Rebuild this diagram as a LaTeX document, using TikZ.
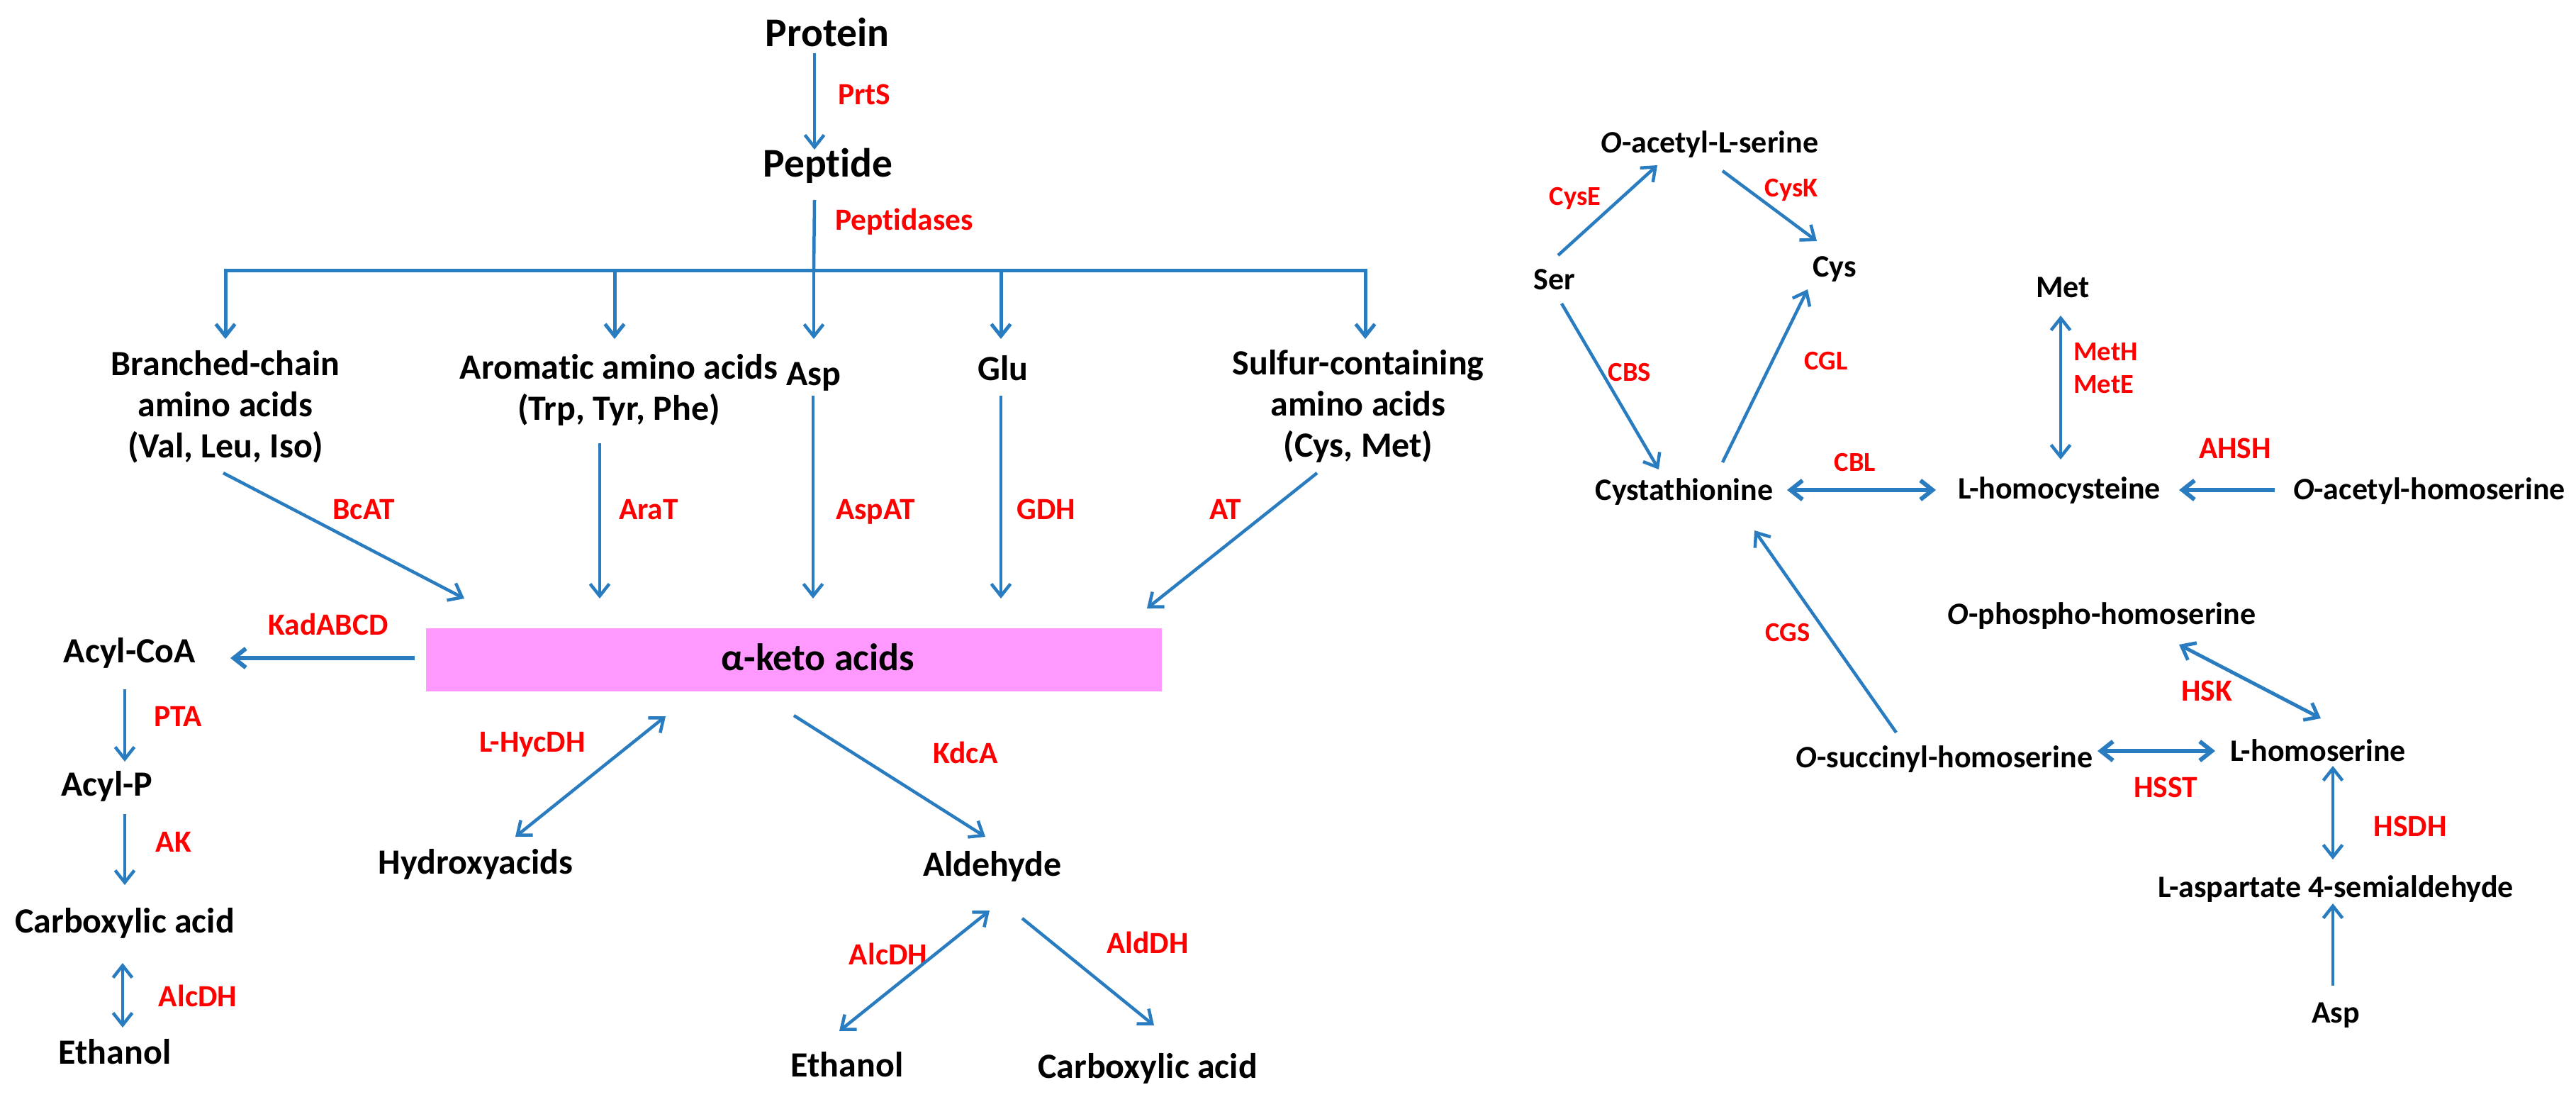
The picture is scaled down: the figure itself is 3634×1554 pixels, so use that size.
\documentclass[tikz,border=0pt]{standalone}
\usepackage{fontspec}
\setmainfont{Carlito}[Ligatures={NoCommon,NoRare,NoDiscretionary}]
\usetikzlibrary{arrows.meta}
\definecolor{arrblue}{RGB}{41,124,192}
\definecolor{boxpink}{RGB}{255,153,255}
\definecolor{enzred}{RGB}{255,0,0}
\renewcommand{\arraystretch}{1}
\newcommand{\ml}[1]{\begin{tabular}[t]{@{}c@{}}#1\end{tabular}}
\begin{document}
\begin{tikzpicture}[x=1pt,y=-1pt,
  every node/.style={inner sep=0pt},
  big/.style={font=\fontsize{57.5}{60}\selectfont\bfseries, anchor=base},
  lbl/.style={font=\fontsize{50}{58}\selectfont\bfseries, anchor=base},
  lenz/.style={text=enzred, font=\fontsize{43.5}{50}\selectfont\bfseries, anchor=base},
  rlbl/.style={font=\fontsize{44}{50}\selectfont\bfseries, anchor=base},
  renz/.style={text=enzred, font=\fontsize{38.5}{46}\selectfont\bfseries, anchor=base},
  tipb/.tip={Straight Barb[length=17pt,width=27pt]},
  conn/.style={draw=arrblue, line width=4.5pt, -tipb},
  dconn/.style={conn, tipb-tipb},
  thick conn/.style={conn, line width=6pt},
  thick dconn/.style={dconn, line width=6pt},
  plainline/.style={draw=arrblue, line width=4.5pt}
]
\path[fill=white, use as bounding box] (0,0) rectangle (3634,1554);

% ---------- left part: nodes ----------
\node[big] (protein) at (1167,66) {Protein};
\node[big] (peptide) at (1168,250) {Peptide};
\node[lenz, anchor=base west] (prts) at (1182,148) {PrtS};
\node[lenz, anchor=base west] (peptidases) at (1178,324) {Peptidases};
\coordinate (hub) at (1148,381);

\node[lbl] (bcaa) at (318,529) {\ml{Branched-chain\\amino acids\\(Val, Leu, Iso)}};
\node[lbl] (arom) at (873,534) {\ml{Aromatic amino acids\\(Trp, Tyr, Phe)}};
\node[lbl] (asp) at (1148,543) {Asp};
\node[lbl] (glu) at (1415,536) {Glu};
\node[lbl] (sulf) at (1916,528) {\ml{Sulfur-containing\\amino acids\\(Cys, Met)}};

\node[lenz] (bcat) at (513,732) {BcAT};
\node[lenz] (arat) at (915,732) {AraT};
\node[lenz] (aspat) at (1235,732) {AspAT};
\node[lenz] (gdh) at (1476,732) {GDH};
\node[lenz] (at) at (1729,732) {AT};

\node[fill=boxpink, minimum width=1038pt, minimum height=89pt] (keto) at (1120,930.5) {};
\node[font=\fontsize{54}{60}\selectfont\bfseries, anchor=base] (ketotext) at (1154,945) {α-keto acids};

\node[lenz] (kad) at (463,895) {KadABCD};
\node[lbl] (acylcoa) at (183,934) {Acyl-CoA};
\node[lenz] (pta) at (251,1024) {PTA};
\node[lbl] (acylp) at (151,1122) {Acyl-P};
\node[lenz] (ak) at (245,1201) {AK};
\node[lbl] (carbl) at (176,1315) {Carboxylic acid};
\node[lenz] (alcdhl) at (279,1419) {AlcDH};
\node[lbl] (ethl) at (162,1500) {Ethanol};

\node[lenz] (hycdh) at (751,1060) {L-HycDH};
\node[lbl] (hydroxy) at (671,1232) {Hydroxyacids};
\node[lenz] (kdca) at (1362,1076) {KdcA};
\node[lbl] (ald) at (1400,1235) {Aldehyde};
\node[lenz] (alcdhr) at (1253,1360) {AlcDH};
\node[lenz] (alddh) at (1619,1344) {AldDH};
\node[lbl] (ethr) at (1195,1518) {Ethanol};
\node[lbl] (carbr) at (1619,1520) {Carboxylic acid};

% ---------- left part: connectors ----------
\draw[conn] ([shift={(-18,9)}]protein.base) -- ([shift={(-19,-39)}]peptide.base);
\draw[plainline] ([shift={(-19,32)}]peptide.base) -- (hub);
\draw[conn, line width=5pt] (hub) -| ([shift={(0,-51)}]bcaa.base);
\draw[conn, line width=5pt] (hub) -| ([shift={(-6,-56)}]arom.base);
\draw[conn] (hub) -- ([shift={(0,-65)}]asp.base);
\draw[conn, line width=5pt] (hub) -| ([shift={(-3,-58)}]glu.base);
\draw[conn, line width=5pt] (hub) -| ([shift={(10,-50)}]sulf.base);

\draw[conn] ([shift={(-3,138)}]bcaa.base) -- ([shift={(-465,-86.5)}]keto.center);
\draw[conn] ([shift={(-27,91)}]arom.base) -- ([shift={(-274,-86.5)}]keto.center);
\draw[conn] ([shift={(-1,15)}]asp.base) -- ([shift={(27,-86.5)}]keto.center);
\draw[conn] ([shift={(-3,22)}]glu.base) -- ([shift={(292,-86.5)}]keto.center);
\draw[conn] ([shift={(-58,139)}]sulf.base) -- ([shift={(498,-72.5)}]keto.center);

\draw[thick conn] ([shift={(-535,-2.5)}]keto.center) -- ([shift={(142,-6)}]acylcoa.base);
\draw[conn] ([shift={(-7,38)}]acylcoa.base) -- ([shift={(25,-48)}]acylp.base);
\draw[conn] ([shift={(25,26)}]acylp.base) -- ([shift={(0,-67)}]carbl.base);
\draw[dconn] ([shift={(-3,43)}]carbl.base) -- ([shift={(11,-51)}]ethl.base);

\draw[dconn] ([shift={(56,-52)}]hydroxy.base) -- ([shift={(-181,79.5)}]keto.center);
\draw[conn] ([shift={(0,78.5)}]keto.center) -- ([shift={(-10,-55)}]ald.base);
\draw[dconn] ([shift={(-4,49)}]ald.base) -- ([shift={(-11,-64)}]ethr.base);
\draw[conn] ([shift={(42,60)}]ald.base) -- ([shift={(9,-74)}]carbr.base);

% ---------- right part: nodes ----------
\node[rlbl] (oas) at (2412,216) {\textit{O}-acetyl-L-serine};
\node[rlbl] (ser) at (2193,408) {Ser};
\node[rlbl] (cys) at (2588,390) {Cys};
\node[rlbl] (met) at (2910,419) {Met};
\node[rlbl] (cth) at (2376,705) {Cystathionine};
\node[rlbl] (hcy) at (2905,703) {L-homocysteine};
\node[rlbl] (oah) at (3427,704) {\textit{O}-acetyl-homoserine};
\node[rlbl] (oph) at (2965,880) {\textit{O}-phospho-homoserine};
\node[rlbl] (osh) at (2743,1082) {\textit{O}-succinyl-homoserine};
\node[rlbl] (hse) at (3270,1073) {L-homoserine};
\node[rlbl] (asa) at (3295,1265) {L-aspartate 4-semialdehyde};
\node[rlbl] (asp2) at (3295,1442) {Asp};

\node[renz] (cyse) at (2222,290) {CysE};
\node[renz] (cysk) at (2527,277) {CysK};
\node[renz] (cbs) at (2299,537) {CBS};
\node[renz] (cgl) at (2576,521) {CGL};
\node[renz, anchor=base west] (meth) at (2925,508) {MetH};
\node[renz, anchor=base west] (mete) at (2925,554) {MetE};
\node[renz] (cbl) at (2617,664) {CBL};
\node[renz] (cgs) at (2522,904) {CGS};
\node[lenz] (ahsh) at (3153,646) {AHSH};
\node[lenz] (hsk) at (3113,988) {HSK};
\node[lenz] (hsst) at (3055,1124) {HSST};
\node[lenz] (hsdh) at (3400,1179) {HSDH};

% ---------- right part: connectors ----------
\draw[conn] ([shift={(5,-48)}]ser.base) -- ([shift={(-74,17)}]oas.base);
\draw[conn] ([shift={(18,25)}]oas.base) -- ([shift={(-25,-50)}]cys.base);
\draw[conn] ([shift={(10,20)}]ser.base) -- ([shift={(-36,-43)}]cth.base);
\draw[conn] ([shift={(54,-53)}]cth.base) -- ([shift={(-38,18)}]cys.base);
\draw[dconn] ([shift={(-3,26)}]met.base) -- ([shift={(2,-55)}]hcy.base);
\draw[thick dconn] ([shift={(145,-14)}]cth.base) -- ([shift={(-174,-12)}]hcy.base);
\draw[thick conn] ([shift={(-218,-13)}]oah.base) -- ([shift={(169,-12)}]hcy.base);
\draw[conn] ([shift={(-68,-49)}]osh.base) -- ([shift={(99,43)}]cth.base);
\draw[thick dconn, line width=5pt] ([shift={(109,29)}]oph.base) -- ([shift={(4,-60)}]hse.base);
\draw[thick dconn] ([shift={(216,-23)}]osh.base) -- ([shift={(-145,-14)}]hse.base);
\draw[dconn] ([shift={(21,7)}]hse.base) -- ([shift={(-4,-53)}]asa.base);
\draw[conn] ([shift={(-4,-52)}]asp2.base) -- ([shift={(-4,9)}]asa.base);
\end{tikzpicture}
\end{document}
